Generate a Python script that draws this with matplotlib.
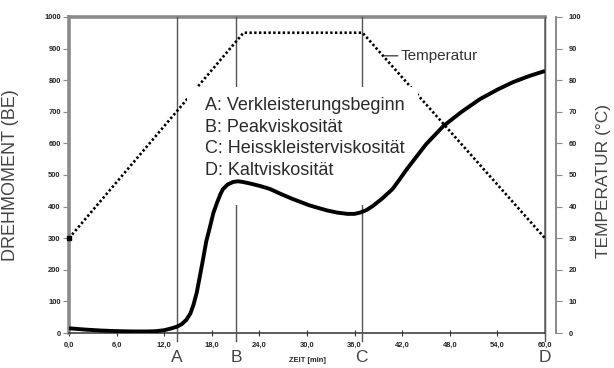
import matplotlib
matplotlib.use("Agg")
import matplotlib.pyplot as plt
from matplotlib.patches import Rectangle
from matplotlib.transforms import blended_transform_factory
import numpy as np

# Brabender viscogram: torque (BE) and temperature programme over time
time_min = [0.0, 2.0, 4.0, 6.0, 8.0, 10.0, 11.0, 12.0, 12.8, 13.6, 14.2, 14.8,
            15.3, 15.7, 16.1, 16.5, 16.9, 17.3, 17.8, 18.2, 18.7, 19.1, 19.4,
            20.0, 20.7, 21.3, 21.9, 23.0, 24.1, 25.3, 26.7, 28.2, 30.3, 32.5,
            33.8, 35.1, 36.0, 36.7, 37.5, 38.3, 39.5, 40.8, 41.7, 42.6, 43.4,
            45.0, 47.2, 49.5, 51.8, 54.0, 56.0, 58.0, 60.0]
torque_be = [15, 11, 8, 6, 5, 5, 6, 9, 14, 20, 28, 42,
             62, 90, 128, 180, 234, 290, 339, 380, 415, 440, 455,
             470, 478, 480, 478, 472, 465, 456, 440, 424, 404, 388,
             381, 377, 377, 381, 389, 402, 426, 456, 487, 519, 545,
             597, 655, 700, 740, 770, 794, 813, 829]

temp_time = [0.0, 22.0, 37.0, 60.0]
temp_c = [30, 95, 95, 30]

marker_time = [13.6, 21.1, 36.9, 60.0]
marker_names = ["A", "B", "C", "D"]
marker_desc = ["Verkleisterungsbeginn", "Peakviskosität",
               "Heisskleisterviskosität", "Kaltviskosität"]

x_ticks = list(range(0, 61, 6))
x_ticklabels = [f"{v},0" for v in x_ticks]
y_left_ticks = list(range(0, 1001, 100))
y_right_ticks = list(range(0, 101, 10))

plt.rcParams["font.family"] = ["Liberation Sans", "DejaVu Sans"]

fig = plt.figure(figsize=(6.14, 3.68), dpi=100)
ax = fig.add_axes([0.1124, 0.095, 0.7752, 0.859])
ax2 = ax.twinx()

ax.set_xlim(0, 60)
ax.set_ylim(0, 1000)
ax2.set_ylim(0, 100)

grey = "#8a8a8a"
dark = "#333333"

# spines
ax.spines["left"].set_color(grey)
ax.spines["left"].set_linewidth(2.6)
ax.spines["top"].set_color(grey)
ax.spines["top"].set_linewidth(2.6)
ax.spines["bottom"].set_color(dark)
ax.spines["bottom"].set_linewidth(1.1)
ax.spines["right"].set_color(grey)
ax.spines["right"].set_linewidth(1.4)
for s in ["left", "top", "bottom"]:
    ax2.spines[s].set_visible(False)
ax2.spines["right"].set_position(("outward", 8))
ax2.spines["right"].set_color(grey)
ax2.spines["right"].set_linewidth(1.4)

# ticks
tick_font = dict(fontsize=5.4, fontweight="bold", color="#222222")
ax.set_xticks(x_ticks)
ax.set_xticklabels(x_ticklabels, **tick_font)
ax.set_yticks(y_left_ticks)
ax.set_yticklabels([str(v) for v in y_left_ticks], **tick_font)
ax2.set_yticks(y_right_ticks)
ax2.set_yticklabels([str(v) for v in y_right_ticks], **tick_font)
ax.tick_params(axis="x", direction="inout", length=5, width=0.8, color=dark, pad=4)
ax.tick_params(axis="y", direction="out", length=4, width=0.8, color=grey, pad=2)
ax2.tick_params(axis="y", direction="out", length=4, width=0.8, color=grey, pad=5)

ax.set_xlabel("ZEIT [min]", fontsize=5.4, fontweight="bold", color="#222222", labelpad=6)
ax.set_ylabel("DREHMOMENT (BE)", fontsize=13, color="#444444")
ax.yaxis.set_label_coords(-0.105, 0.5)
ax2.set_ylabel("TEMPERATUR (°C)", fontsize=12.5, color="#444444", rotation=90)
ax2.yaxis.set_label_coords(1.108, 0.48)

# ax2 drawn on top of ax; keep its background transparent
ax.set_zorder(1)
ax2.set_zorder(2)
ax2.patch.set_visible(False)

# vertical markers with letters below the axis
trans = blended_transform_factory(ax.transData, ax.transAxes)
for t, name in zip(marker_time, marker_names):
    ax2.axvline(t, ymin=-0.025, ymax=1.0, color="#555555", lw=1.0, zorder=1,
                clip_on=False)
    ax.text(t, -0.078, name, transform=trans, ha="center", va="center",
            fontsize=12.5, color="#444444", clip_on=False)

# temperature programme (dotted)
ax2.plot(temp_time, temp_c, color="black", lw=1.9, linestyle=(0, (0.9, 0.9)),
         zorder=2)
ax2.plot(temp_time[0], temp_c[0], marker="s", ms=3.5, color="black", zorder=2,
         clip_on=False)
ax2.annotate("Temperatur", xy=(39.7, 87.7), xytext=(41.8, 87.7),
             fontsize=11, color="#333333", va="center", ha="left",
             arrowprops=dict(arrowstyle="-", lw=0.9, color="#333333",
                             shrinkA=0, shrinkB=0), zorder=3)

# white panel holding the legend of marker meanings
ax2.add_patch(Rectangle((0.248, 0.405), 0.485, 0.373, transform=ax.transAxes,
                        facecolor="white", edgecolor="none", zorder=3))
legend_text = "\n".join(f"{n}: {d}" for n, d in zip(marker_names, marker_desc))
ax2.text(0.285, 0.748, legend_text, transform=ax.transAxes, ha="left", va="top",
         fontsize=13, color="#2a2a2a", linespacing=1.38, zorder=4)

# torque curve on the left scale, scaled into the temperature axes frame
ax2.plot(time_min, np.array(torque_be) / 10.0, color="black", lw=2.8,
         solid_capstyle="butt", solid_joinstyle="round", zorder=5)

fig.savefig("out.png", dpi=100)
